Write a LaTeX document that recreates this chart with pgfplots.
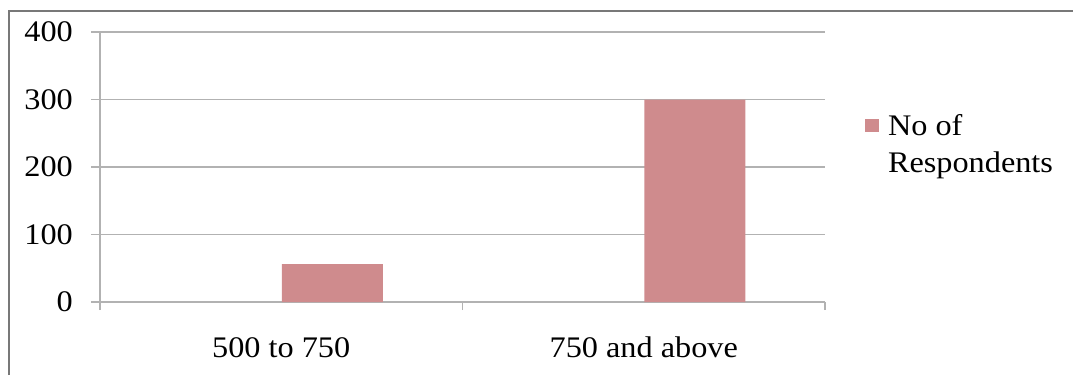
\documentclass[border=0pt]{standalone}
\usepackage{pgfplots}
\pgfplotsset{compat=1.18}
\usepackage{fontspec}
\setmainfont{Liberation Serif}[FakeStretch=1.08]
\definecolor{barc}{RGB}{207,139,141}
\definecolor{gridc}{RGB}{178,178,178}
\definecolor{framec}{RGB}{120,120,120}
\begin{document}
\fontsize{30}{37}\selectfont
\begin{tikzpicture}[x=1bp,y=1bp]
\path[use as bounding box] (0,0) rectangle (1073,375);
\draw[framec, line width=2bp] (9,0) -- (9,364) -- (1073,364);
\begin{axis}[
  at={(100bp,73bp)}, anchor=south west,
  scale only axis, width=725bp, height=270bp,
  xmin=-0.5, xmax=1.5, ymin=0, ymax=400,
  ytick={0,100,200,300,400},
  xtick={0,1}, xticklabels={500 to 750, 750 and above},
  minor xtick={-0.5,0.5,1.5},
  axis x line*=bottom, axis y line*=left,
  axis line style={gridc, line width=1.5bp, -},
  ymajorgrids, grid style={gridc, line width=1.5bp},
  tick align=outside,
  major tick length=9bp, minor tick length=8bp,
  major x tick style={draw=none},
  minor x tick style={gridc, line width=1.5bp},
  major y tick style={gridc, line width=1.5bp},
  /pgf/number format/assume math mode=true,
  yticklabel style={anchor=east, xshift=-8bp},
  xticklabel style={anchor=base, yshift=-46bp},
  legend cell align=left,
  legend style={at={(axis description cs:1.0552,0.712)}, anchor=north west,
    draw=none, fill=none, inner sep=0pt, outer sep=0pt,
    column sep=9bp, nodes={inner sep=0pt, outer sep=0pt},
    cells={anchor=base west}},
]
\addplot[ybar, bar width=0.279, bar shift=0.141, fill=barc, draw=none,
  legend image code/.code={\fill[barc] (0bp,4bp) rectangle (14bp,17bp);}]
  coordinates {(0,56) (1,300)};
\addlegendentry{\begin{tabular}[t]{@{}l@{}}No of\\Respondents\end{tabular}}
\end{axis}
\end{tikzpicture}
\end{document}
